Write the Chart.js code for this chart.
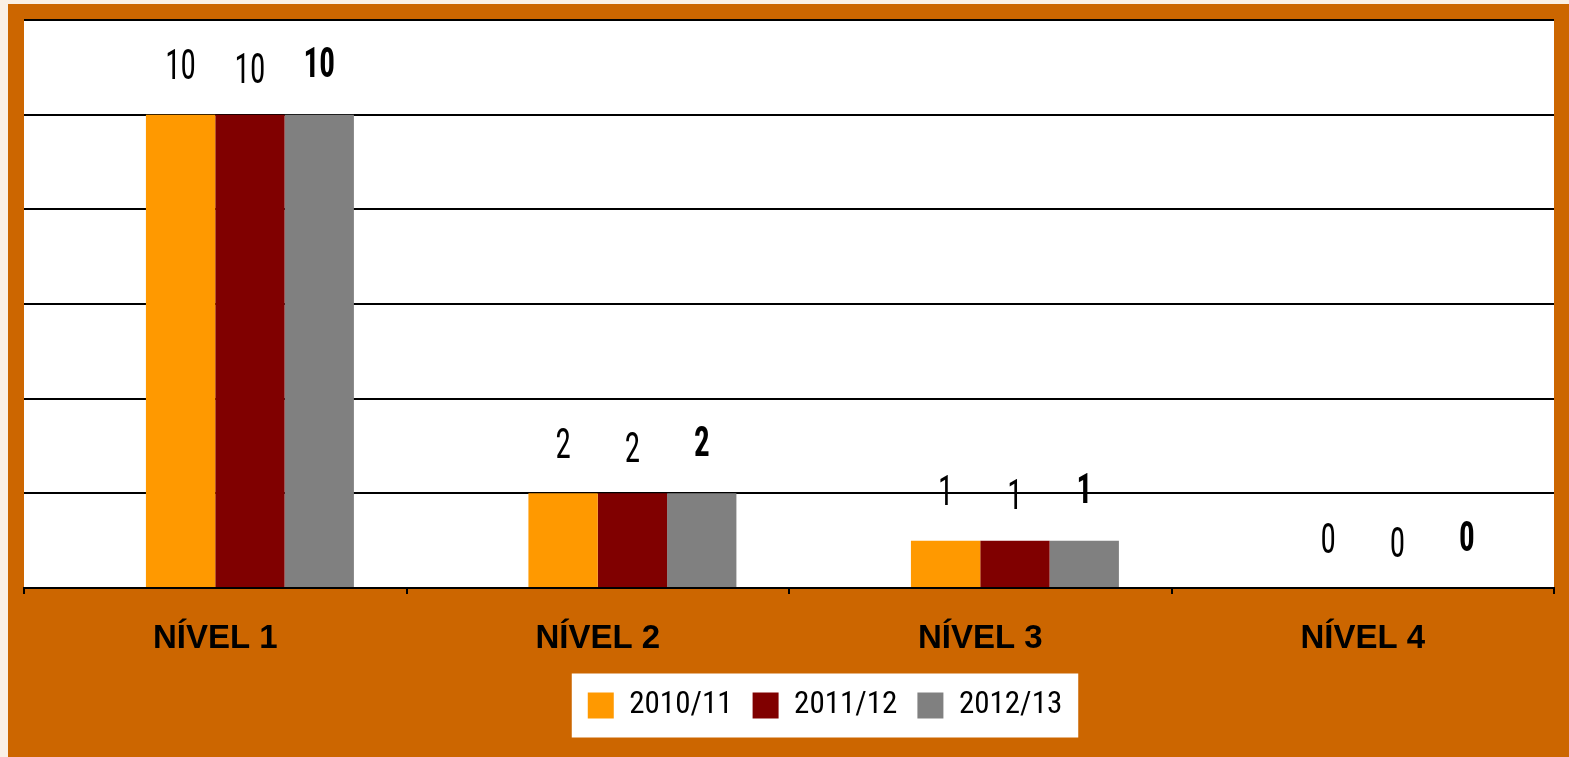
<!DOCTYPE html>
<html>
<head>
<meta charset="utf-8">
<script src="https://cdn.jsdelivr.net/npm/chart.js@4/dist/chart.umd.min.js"></script>
<style>
    html, body { margin: 0; padding: 0; background: #FAF0E6; }
    .frame {
        position: absolute;
        left: 8px; top: 4px;
        width: 1561px; height: 753px;
        background: #CC6600;
    }
    canvas { display: block; }
</style>
</head>
<body>
<div class="frame"><canvas id="chart-bar" width="1561" height="753"></canvas></div>
<script>
// 카테고리 / 시리즈
const levelLabels = ["NÍVEL 1", "NÍVEL 2", "NÍVEL 3", "NÍVEL 4"];
const yearLabels = ["", "2010/11", "2011/12", "2012/13"];
const dataBlank = [];
const data2010 = [10, 2, 1, 0];
const data2011 = [10, 2, 1, 0];
const data2012 = [10, 2, 1, 0];
const yTicks = [0, 2, 4, 6, 8, 10, 12];

const barColors = ["rgba(0,0,0,0)", "#FF9900", "#800000", "#808080"];
const labelLift = [0, 46, 42, 48];
const narrow = '"Roboto Condensed", "Liberation Sans Narrow", "DejaVu Sans Condensed", sans-serif';

// 흰색 플롯 영역 + 범례 박스
const backdrop = {
    id: 'backdrop',
    afterLayout(chart) {
        // 범례를 오른쪽으로 조금 이동
        chart.legend.left += 36;
        chart.legend.right += 36;
    },
    beforeDraw(chart) {
        const ctx = chart.ctx;
        const a = chart.chartArea;
        ctx.save();
        ctx.fillStyle = '#FFFFFF';
        ctx.fillRect(a.left, a.top, a.right - a.left, a.bottom - a.top);
        const boxes = chart.legend.legendHitBoxes;
        if (boxes && boxes.length) {
            const l = Math.min(...boxes.map(b => b.left));
            const r = Math.max(...boxes.map(b => b.left + b.width));
            const cy = boxes[0].top + boxes[0].height / 2;
            ctx.fillRect(l - 16, cy - 32, r - l + 32, 64);
        }
        ctx.restore();
    }
};

// 값 라벨
const valueLabels = {
    id: 'valueLabels',
    afterDatasetsDraw(chart) {
        const ctx = chart.ctx;
        ctx.save();
        ctx.fillStyle = '#000000';
        ctx.textAlign = 'center';
        ctx.textBaseline = 'middle';
        chart.data.datasets.forEach((ds, i) => {
            if (!ds.data.length) return;
            const meta = chart.getDatasetMeta(i);
            ctx.font = (i === 3 ? 'bold ' : '') + '42px ' + narrow;
            meta.data.forEach((bar, j) => {
                ctx.save();
                ctx.translate(bar.x, bar.y - labelLift[i]);
                ctx.scale(0.74, 1);
                ctx.fillText(String(ds.data[j]), 0, 0);
                ctx.restore();
            });
        });
        ctx.restore();
    }
};

const seriesData = [dataBlank, data2010, data2011, data2012];

const config_bar = {
    type: 'bar',
    data: {
        labels: levelLabels,
        datasets: yearLabels.map((label, i) => ({
            label: label,
            data: seriesData[i],
            backgroundColor: barColors[i],
            borderWidth: 0,
            categoryPercentage: 0.725,
            barPercentage: 1
        }))
    },
    plugins: [backdrop, valueLabels],
    options: {
        responsive: false,
        animation: false,
        layout: {
            padding: { left: 16, top: 16, right: 15, bottom: 26 }
        },
        scales: {
            x: {
                afterFit: scale => { scale.height = 82; },
                grid: {
                    offset: true,
                    drawOnChartArea: false,
                    drawTicks: true,
                    tickLength: 6,
                    color: '#000000',
                    lineWidth: 2
                },
                border: { display: true, color: '#000000', width: 2 },
                ticks: {
                    color: '#000000',
                    padding: 25,
                    font: { family: 'Arial, "Liberation Sans", sans-serif', size: 33, weight: 'bold' }
                }
            },
            y: {
                min: 0,
                max: 12,
                afterBuildTicks: scale => {
                    scale.ticks = yTicks.map(v => ({ value: v }));
                },
                afterFit: scale => { scale.width = 0; },
                border: { display: false },
                grid: {
                    color: '#000000',
                    lineWidth: 2,
                    drawTicks: false
                },
                ticks: { display: false }
            }
        },
        plugins: {
            legend: {
                display: true,
                position: 'bottom',
                labels: {
                    color: '#000000',
                    boxWidth: 26,
                    boxHeight: 26,
                    padding: 20,
                    font: { family: narrow, size: 31 },
                    filter: item => item.text !== ''
                }
            },
            tooltip: { enabled: false }
        }
    }
};

const barChart = new Chart(document.getElementById("chart-bar"), config_bar);
</script>
</body>
</html>
